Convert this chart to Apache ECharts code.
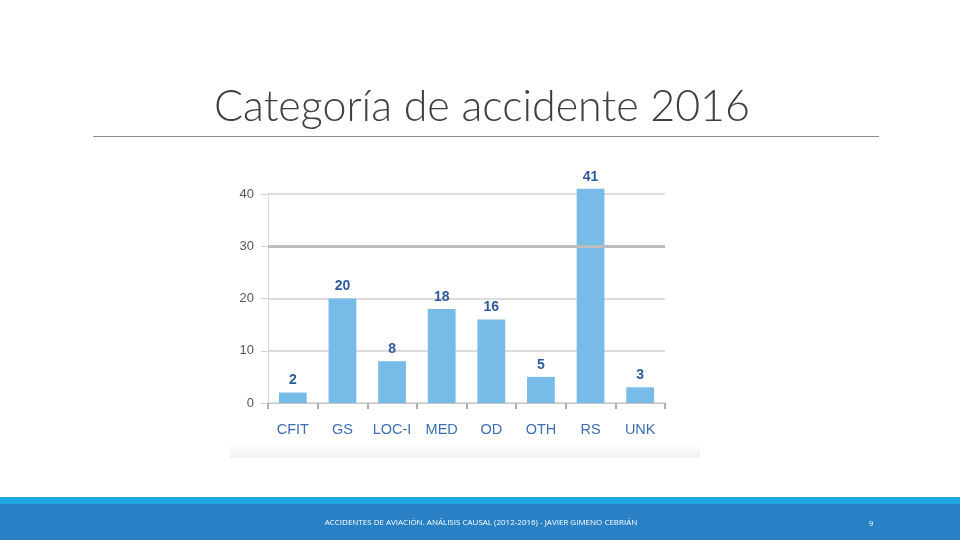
<!DOCTYPE html>
<html>
<head>
<meta charset="utf-8">
<script src="https://cdn.jsdelivr.net/npm/echarts@6/dist/echarts.min.js"></script>
<style>html,body{margin:0;padding:0;background:#fff;}#c{width:960px;height:540px;}</style>
</head>
<body>
<div id="c"></div>
<script>
const titleText = 'Categoría de accidente 2016';
const footerText = 'ACCIDENTES DE AVIACIÓN. ANÁLISIS CAUSAL (2012-2016) - JAVIER GIMENO CEBRIÁN';
const pageNumber = '9';
const categories = ['CFIT', 'GS', 'LOC-I', 'MED', 'OD', 'OTH', 'RS', 'UNK'];
const values = [2, 20, 8, 18, 16, 5, 41, 3];
const yTicks = [0, 10, 20, 30, 40];

const chart = echarts.init(document.getElementById('c'), null, {renderer: 'canvas'});
chart.setOption({
  animation: false,
  backgroundColor: '#ffffff',
  graphic: [
    {type: 'rect', shape: {x: 230, y: 442, width: 470, height: 16},
     style: {fill: new echarts.graphic.LinearGradient(0, 0, 0, 1, [{offset: 0, color: 'rgba(244,244,244,0)'}, {offset: 1, color: 'rgba(240,240,240,1)'}])}, z: -1},
    {type: 'text', left: 214, top: 86, style: {text: titleText, font: '300 43px Lato, "Open Sans", sans-serif', fill: '#404040'}},
    {type: 'line', shape: {x1: 93, y1: 136.5, x2: 879, y2: 136.5}, style: {stroke: '#8c8c8c', lineWidth: 1}},
    {type: 'rect', shape: {x: 0, y: 497, width: 960, height: 7}, style: {fill: '#1fa8df'}},
    {type: 'rect', shape: {x: 0, y: 504, width: 960, height: 36}, style: {fill: '#2980c4'}},
    {type: 'text', x: 481, y: 523, style: {text: footerText, font: '8px "Open Sans", sans-serif', fill: '#ffffff', align: 'center', verticalAlign: 'middle'}},
    {type: 'text', x: 871, y: 524, style: {text: pageNumber, font: '8px "Open Sans", sans-serif', fill: '#ffffff', align: 'center', verticalAlign: 'middle'}}
  ],
  grid: {left: 268, right: 295, top: 194, bottom: 137, containLabel: false},
  xAxis: {
    type: 'category',
    data: categories,
    axisLine: {show: true, lineStyle: {color: '#c8c8c8', width: 1}},
    axisTick: {show: true, length: 6, lineStyle: {color: '#b0b0b0', width: 2}},
    axisLabel: {interval: 0, hideOverlap: false, color: '#3d6fb3', fontFamily: 'Liberation Sans, Arial, sans-serif', fontSize: 14.5, margin: 19}
  },
  yAxis: {
    type: 'value',
    min: yTicks[0],
    max: yTicks[yTicks.length - 1],
    interval: 10,
    axisLine: {show: true, lineStyle: {color: '#d8d8d8'}},
    axisTick: {show: true, length: 7, lineStyle: {color: '#d0d0d0'}},
    splitLine: {show: true, lineStyle: {color: '#d0d0d0', width: 1.5}},
    axisLabel: {color: '#555555', fontFamily: 'Liberation Sans, Arial, sans-serif', fontSize: 13, margin: 14}
  },
  series: [{
    type: 'bar',
    data: values,
    barWidth: '56%',
    clip: false,
    itemStyle: {color: '#77bbe8'},
    label: {show: true, position: 'top', distance: 5, color: '#2f5b9e', fontWeight: 'bold', fontFamily: 'Liberation Sans, Arial, sans-serif', fontSize: 14},
    markLine: {
      silent: true, symbol: 'none', label: {show: false},
      lineStyle: {color: '#bdbdbd', width: 3, type: 'solid'},
      data: [{yAxis: yTicks[3]}]
    }
  }]
});
</script>
</body>
</html>
